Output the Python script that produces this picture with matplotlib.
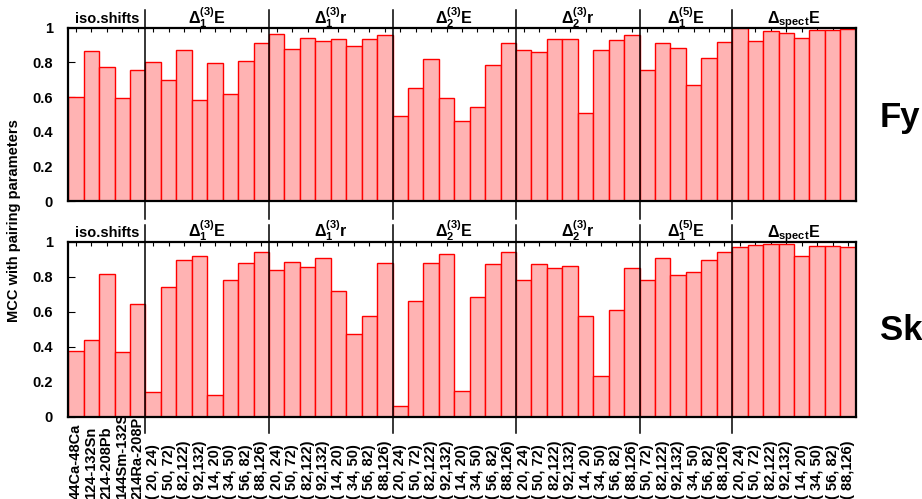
import numpy as np
import matplotlib
matplotlib.use('Agg')
import matplotlib.pyplot as plt
from matplotlib.transforms import blended_transform_factory

plt.rc('font', family='Liberation Sans', weight='bold', size=10.5)
plt.rc('mathtext', fontset='custom', rm='Liberation Sans:bold',
       it='Liberation Sans:bold', bf='Liberation Sans:bold')

# group titles and x labels
groups = ['iso.shifts', r'$\Delta_1^{(3)}$E', r'$\Delta_1^{(3)}$r', r'$\Delta_2^{(3)}$E',
          r'$\Delta_2^{(3)}$r', r'$\Delta_1^{(5)}$E', r'$\Delta_{\rm spect}$E']
iso_labels = ['44Ca-48Ca', '124-132Sn', '214-208Pb', '144Sm-132Sn', '214Ra-208Pb']
pairs8 = ['( 20, 24)', '( 50, 72)', '( 82,122)', '( 92,132)',
          '( 14, 20)', '( 34, 50)', '( 56, 82)', '( 88,126)']
pairs6 = ['( 50, 72)', '( 82,122)', '( 92,132)', '( 34, 50)', '( 56, 82)', '( 88,126)']
group_labels = [iso_labels, pairs8, pairs8, pairs8, pairs8, pairs6, pairs8]

# Fy
fy_iso = [0.600, 0.865, 0.775, 0.597, 0.757]
fy_d1e3 = [0.802, 0.697, 0.873, 0.584, 0.796, 0.620, 0.807, 0.913]
fy_d1r3 = [0.963, 0.875, 0.942, 0.925, 0.933, 0.896, 0.936, 0.960]
fy_d2e3 = [0.489, 0.651, 0.817, 0.593, 0.462, 0.543, 0.786, 0.913]
fy_d2r3 = [0.871, 0.857, 0.933, 0.936, 0.507, 0.873, 0.931, 0.960]
fy_d1e5 = [0.755, 0.911, 0.884, 0.671, 0.825, 0.915]
fy_spect = [0.998, 0.923, 0.981, 0.969, 0.942, 0.985, 0.988, 0.990]

# Sk
sk_iso = [0.373, 0.440, 0.816, 0.367, 0.646]
sk_d1e3 = [0.140, 0.742, 0.895, 0.918, 0.124, 0.784, 0.881, 0.939]
sk_d1r3 = [0.836, 0.883, 0.857, 0.906, 0.719, 0.474, 0.574, 0.878]
sk_d2e3 = [0.061, 0.662, 0.876, 0.931, 0.147, 0.685, 0.870, 0.939]
sk_d2r3 = [0.782, 0.874, 0.847, 0.859, 0.576, 0.231, 0.608, 0.847]
sk_d1e5 = [0.784, 0.906, 0.811, 0.826, 0.893, 0.939]
sk_spect = [0.971, 0.979, 0.989, 0.985, 0.916, 0.973, 0.977, 0.967]

fy = [fy_iso, fy_d1e3, fy_d1r3, fy_d2e3, fy_d2r3, fy_d1e5, fy_spect]
sk = [sk_iso, sk_d1e3, sk_d1r3, sk_d2e3, sk_d2r3, sk_d1e5, sk_spect]

W, H = 922, 499
fig = plt.figure(figsize=(W / 100, H / 100), dpi=100)

left = 68.3 / W
width = (855.7 - 68.3) / W
ax1 = fig.add_axes([left, 1 - 201 / H, width, 173.3 / H])
ax2 = fig.add_axes([left, 1 - 416.7 / H, width, 175 / H])

sizes = [len(g) for g in fy]
bounds = np.cumsum(sizes)
n = bounds[-1]
x = np.arange(n)

for ax, data, name, sep_top, sep_bot in [(ax1, fy, 'Fy', 1.102, -0.104),
                                         (ax2, sk, 'Sk', 1.095, -0.093)]:
    vals = np.concatenate(data)
    ax.bar(x, vals, width=1.0, color='#ffb3b3', edgecolor='red', linewidth=1.0, zorder=3)
    ax.set_xlim(-0.5, n - 0.5)
    ax.set_ylim(0, 1)
    ax.set_yticks(np.arange(0, 1.01, 0.2))
    ax.set_yticklabels(['0', '0.2', '0.4', '0.6', '0.8', '1'])
    ax.set_xticks(x)
    ax.tick_params(axis='x', top=True, bottom=True, direction='in', length=3,
                   width=0.8, labelbottom=False)
    ax.tick_params(axis='y', left=True, right=False, direction='in', length=5,
                   width=0.8, pad=11)
    for s in ax.spines.values():
        s.set_linewidth(1.6)
        s.set_zorder(4)
    tr = blended_transform_factory(ax.transData, ax.transAxes)
    start = 0
    for gi, b in enumerate(bounds):
        fs = 10.5 if gi == 0 else 11.5
        ax.text((start + b - 1) / 2, 1.027, groups[gi], transform=tr,
                ha='center', va='baseline', fontsize=fs)
        if b < n:
            ax.plot([b - 0.5, b - 0.5], [sep_bot, sep_top], transform=tr,
                    color='black', lw=1.1, clip_on=False, zorder=5)
        start = b

# x tick labels under the lower panel, covered by the axes where they run long
trl = blended_transform_factory(ax2.transData, fig.transFigure)
labels = [lab for g in group_labels for lab in g]
for i, lab in enumerate(labels):
    fig.text(i, 0.001, lab, transform=trl, rotation=90, ha='center', va='bottom',
             fontsize=10.5, zorder=-1)

fig.text(14 / W, 1 - 221 / H, 'MCC with pairing parameters', rotation=90,
         ha='center', va='center', fontsize=10.5)
fig.text(880 / W, 1 - 127 / H, 'Fy', fontsize=25, va='baseline', ha='left')
fig.text(880 / W, 1 - 340 / H, 'Sk', fontsize=25, va='baseline', ha='left')

fig.savefig('out.png', dpi=100)
